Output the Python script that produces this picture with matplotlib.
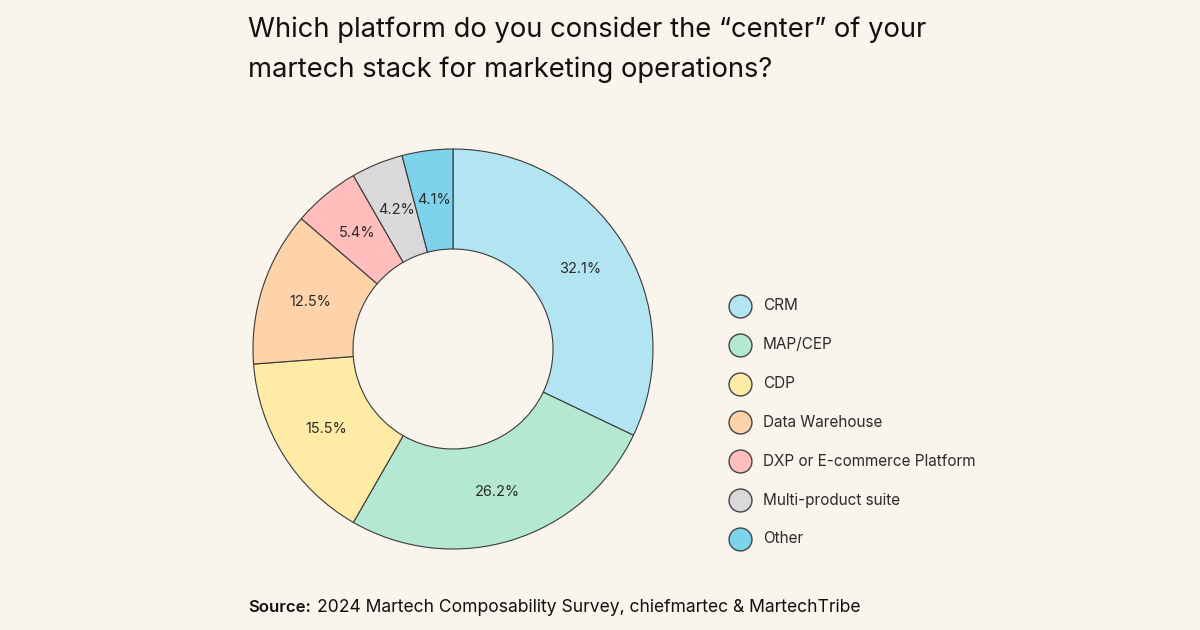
import matplotlib.pyplot as plt
import numpy as np

plt.rcParams['font.family'] = ['Inter', 'DejaVu Sans']

# Daten
categories = ["CRM", "MAP/CEP", "CDP", "Data Warehouse",
              "DXP or E-commerce Platform", "Multi-product suite", "Other"]
shares = [32.1, 26.2, 15.5, 12.5, 5.4, 4.2, 4.1]
colors = ["#B2E4F2", "#B5E8D2", "#FDEBA6", "#FED3AA", "#FFBEBC", "#D9D9D9", "#7DD3EC"]

bg = "#F9F4EC"
ink = "#2B2B2B"

fig = plt.figure(figsize=(12, 6.3), dpi=100, facecolor=bg)

# donut: center at (453, 349) px, radius 200 px
W, H = 1200, 630
cx, cy, r = 453, 349, 200
ax = fig.add_axes([(cx - r) / W, (H - cy - r) / H, 2 * r / W, 2 * r / H])
ax.set_facecolor(bg)
wedges, _ = ax.pie(shares, colors=colors, startangle=90, counterclock=False,
                   radius=1, wedgeprops=dict(width=0.5, edgecolor="#3A3A3A", linewidth=0.8))
ax.set_xlim(-1, 1)
ax.set_ylim(-1, 1)
ax.axis("off")

# Beschriftungen in der Mitte des Rings
start = 90.0
for v in shares:
    mid = np.deg2rad(start - v * 3.6 / 2)
    ax.text(0.75 * np.cos(mid), 0.75 * np.sin(mid), f"{v}%",
            ha="center", va="center", fontsize=10.5, color=ink)
    start -= v * 3.6

# overlay in pixel coordinates for legend and text
ov = fig.add_axes([0, 0, 1, 1], facecolor="none")
ov.set_xlim(0, W)
ov.set_ylim(H, 0)
ov.axis("off")

y0, dy = 306, 38.8
for i, (c, lab) in enumerate(zip(categories, colors)):
    y = y0 + i * dy
    ov.scatter([740], [y], s=16.5 ** 2, color=lab, edgecolor="#444444", linewidth=1.0, zorder=3)
    ov.text(763, y, c, ha="left", va="center", fontsize=11, color=ink)

ov.text(248, 30, "Which platform do you consider the \u201ccenter\u201d of your",
        ha="left", va="center", fontsize=19.7, color="#111111")
ov.text(248, 70, "martech stack for marketing operations?",
        ha="left", va="center", fontsize=19.7, color="#111111")

ov.text(248, 608, "Source:", ha="left", va="center", fontsize=12,
        fontweight="semibold", color="#111111")
ov.text(317, 608, "2024 Martech Composability Survey, chiefmartec & MartechTribe",
        ha="left", va="center", fontsize=12.6, color="#111111")

fig.savefig("out.png", dpi=100, facecolor=bg)
